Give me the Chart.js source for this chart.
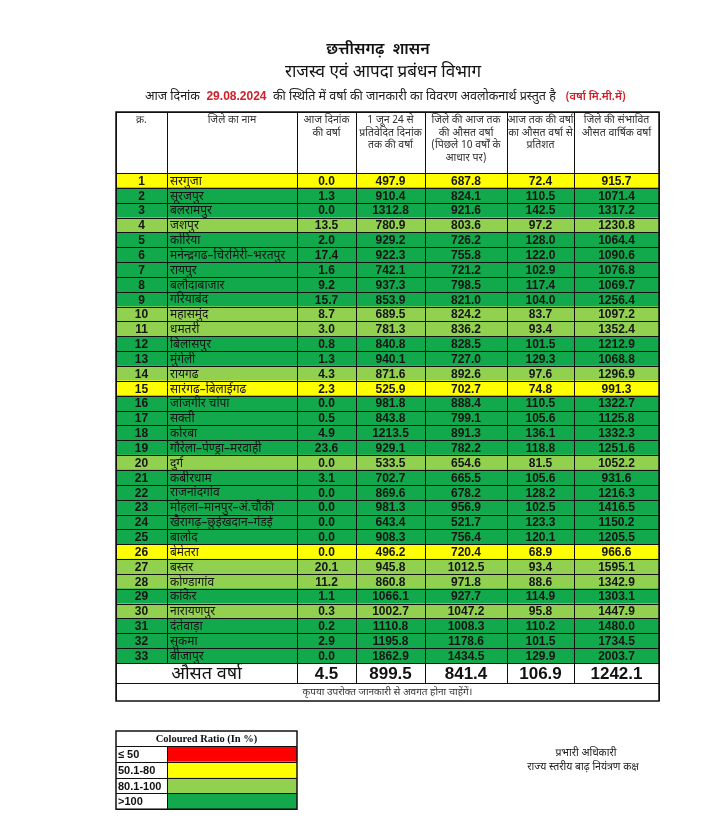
<!DOCTYPE html>
<html>
<head>
<meta charset="utf-8">
<script src="https://cdn.jsdelivr.net/npm/chart.js@4.4.1/dist/chart.umd.min.js"></script>
<style>
  html, body { margin: 0; padding: 0; background: #fff; }
  canvas { display: block; }
</style>
</head>
<body>
<canvas id="rainTable" width="702" height="831"></canvas>
<script>
// ---------- DATA ----------
const serials = Array.from({ length: 33 }, (_, i) => String(i + 1));

const districts = [
  "सरगुजा", "सूरजपुर", "बलरामपुर", "जशपुर", "कोरिया",
  "मनेन्द्रगढ–चिरमिरी–भरतपुर", "रायपुर", "बलौदाबाजार", "गरियाबंद", "महासमुंद",
  "धमतरी", "बिलासपुर", "मुंगेली", "रायगढ", "सारंगढ–बिलाईगढ",
  "जांजगीर चांपा", "सक्ती", "कोरबा", "गौरेला–पेण्ड्रा–मरवाही", "दुर्ग",
  "कबीरधाम", "राजनांदगांव", "मोहला–मानपुर–अं.चौकी", "खैरागढ़–छुईखदान–गंडई", "बालोद",
  "बेमेतरा", "बस्तर", "कोण्डागांव", "कांकेर", "नारायणपुर",
  "दंतेवाड़ा", "सुकमा", "बीजापुर"
];

const todayRain = [
  0.0, 1.3, 0.0, 13.5, 2.0, 17.4, 1.6, 9.2, 15.7, 8.7,
  3.0, 0.8, 1.3, 4.3, 2.3, 0.0, 0.5, 4.9, 23.6, 0.0,
  3.1, 0.0, 0.0, 0.0, 0.0, 0.0, 20.1, 11.2, 1.1, 0.3,
  0.2, 2.9, 0.0
];

const sinceJune = [
  497.9, 910.4, 1312.8, 780.9, 929.2, 922.3, 742.1, 937.3, 853.9, 689.5,
  781.3, 840.8, 940.1, 871.6, 525.9, 981.8, 843.8, 1213.5, 929.1, 533.5,
  702.7, 869.6, 981.3, 643.4, 908.3, 496.2, 945.8, 860.8, 1066.1, 1002.7,
  1110.8, 1195.8, 1862.9
];

const avgToDate = [
  687.8, 824.1, 921.6, 803.6, 726.2, 755.8, 721.2, 798.5, 821.0, 824.2,
  836.2, 828.5, 727.0, 892.6, 702.7, 888.4, 799.1, 891.3, 782.2, 654.6,
  665.5, 678.2, 956.9, 521.7, 756.4, 720.4, 1012.5, 971.8, 927.7, 1047.2,
  1008.3, 1178.6, 1434.5
];

const percentOfAvg = [
  72.4, 110.5, 142.5, 97.2, 128.0, 122.0, 102.9, 117.4, 104.0, 83.7,
  93.4, 101.5, 129.3, 97.6, 74.8, 110.5, 105.6, 136.1, 118.8, 81.5,
  105.6, 128.2, 102.5, 123.3, 120.1, 68.9, 93.4, 88.6, 114.9, 95.8,
  110.2, 101.5, 129.9
];

const annualAvg = [
  915.7, 1071.4, 1317.2, 1230.8, 1064.4, 1090.6, 1076.8, 1069.7, 1256.4, 1097.2,
  1352.4, 1212.9, 1068.8, 1296.9, 991.3, 1322.7, 1125.8, 1332.3, 1251.6, 1052.2,
  931.6, 1216.3, 1416.5, 1150.2, 1205.5, 966.6, 1595.1, 1342.9, 1303.1, 1447.9,
  1480.0, 1734.5, 2003.7
];

// state average row (as reported)
const stateAverage = [4.5, 899.5, 841.4, 106.9, 1242.1];

const columnHeads = [
  ["क्र."],
  ["जिले का नाम"],
  ["आज दिनांक", "की वर्षा"],
  ["1 जून 24 से", "प्रतिवेदित दिनांक", "तक की वर्षा"],
  ["जिले की आज तक", "की औसत वर्षा", "(पिछले 10 वर्षों के", "आधार पर)"],
  ["आज तक की वर्षा", "का औसत वर्षा से", "प्रतिशत"],
  ["जिले की संभावित", "औसत वार्षिक वर्षा"]
];

const ratioBands = ["≤ 50", "50.1-80", "80.1-100", ">100"];
const bandColors = ["#FF0000", "#FFFF00", "#92D050", "#12A84C"];

// ---------- HELPERS ----------
function bandIndex(p) {
  if (p <= 50) return 0;
  if (p <= 80) return 1;
  if (p <= 100) return 2;
  return 3;
}
const rowColors = percentOfAvg.map(p => bandColors[bandIndex(p)]);

// column edges in table units (x scale 0..543)
const colEdges = [0, 51, 181, 240, 309, 391, 458, 543];
const TABLE_W = colEdges[colEdges.length - 1];

const DEV = '"Noto Sans Devanagari", "Lohit Devanagari", "Noto Sans", sans-serif';
const NUM = '"Liberation Sans", Arial, sans-serif';

// ---------- TABLE PLUGIN ----------
const tablePlugin = {
  id: "tableDraw",
  afterDatasetsDraw(chart) {
    const { ctx, chartArea } = chart;
    const xs = chart.scales.x;
    const meta = chart.getDatasetMeta(0);
    const X = colEdges.map(v => xs.getPixelForValue(v));
    const cx = i => (X[i] + X[i + 1]) / 2;

    const top = chartArea.top - 61;      // header top
    const bodyTop = chartArea.top;
    const bodyBottom = chartArea.bottom;
    const avgBottom = bodyBottom + 20;
    const tableBottom = avgBottom + 18;
    const left = X[0], right = X[X.length - 1];

    ctx.save();

    // ---- titles ----
    ctx.fillStyle = "#111";
    ctx.textAlign = "center";
    ctx.textBaseline = "middle";
    ctx.font = "600 16px " + DEV;
    ctx.fillText("छत्तीसगढ़  शासन", 378, 51);
    ctx.font = "17px " + DEV;
    ctx.fillText("राजस्व एवं आपदा प्रबंधन विभाग", 383, 74);

    // subtitle built from segments
    const segs = [
      ["आज दिनांक  ", "12.5px " + DEV, "#222"],
      ["29.08.2024", "bold 12px " + NUM, "#D0202A"],
      ["  की स्थिति में वर्षा की जानकारी का विवरण अवलोकनार्थ प्रस्तुत है", "12.5px " + DEV, "#222"]
    ];
    ctx.textAlign = "left";
    let sx = 145;
    segs.forEach(([t, f, c]) => {
      ctx.font = f;
      ctx.fillStyle = c;
      ctx.fillText(t, sx, t[0] === "2" ? 97 : 98);
      sx += ctx.measureText(t).width;
    });
    ctx.textAlign = "right";
    ctx.font = "600 11px " + DEV;
    ctx.fillStyle = "#D0202A";
    ctx.fillText("(वर्षा मि.मी.में)", 626, 98);

    // ---- header texts ----
    ctx.fillStyle = "#333";
    ctx.textAlign = "center";
    ctx.font = "10.5px " + DEV;
    columnHeads.forEach((lines, i) => {
      lines.forEach((t, k) => ctx.fillText(t, cx(i), top + 9 + k * 12.7));
    });

    // ---- body texts ----
    meta.data.forEach((bar, r) => {
      const y = bar.y + 1;
      ctx.fillStyle = "#151515";
      ctx.font = "bold 12px " + NUM;
      ctx.textAlign = "center";
      ctx.fillText(serials[r], cx(0), y);
      [todayRain, sinceJune, avgToDate, percentOfAvg, annualAvg].forEach((arr, c) => {
        ctx.fillText(arr[r].toFixed(1), cx(c + 2), y);
      });
      ctx.textAlign = "left";
      ctx.font = "12px " + DEV;
      ctx.fillText(districts[r], X[1] + 3, y + 1);
    });

    // ---- average row ----
    ctx.fillStyle = "#111";
    ctx.textAlign = "center";
    ctx.font = "18px " + DEV;
    ctx.fillText("औसत वर्षा", (X[0] + X[2]) / 2, bodyBottom + 13);
    ctx.font = "bold 17px " + NUM;
    stateAverage.forEach((v, c) => ctx.fillText(v.toFixed(1), cx(c + 2), bodyBottom + 11));

    // ---- footer note ----
    ctx.font = "10px " + DEV;
    ctx.fillStyle = "#333";
    ctx.fillText("कृपया उपरोक्त जानकारी से अवगत होना चाहेंगें।", (left + right) / 2, avgBottom + 10);

    // ---- grid lines ----
    ctx.strokeStyle = "#111";
    ctx.lineWidth = 1;
    ctx.beginPath();
    // horizontal row boundaries
    const hy = [top, bodyTop];
    meta.data.forEach(bar => hy.push(bar.y + bar.height / 2));
    hy.push(avgBottom);
    hy.forEach(y => {
      const yy = Math.round(y) + 0.5;
      ctx.moveTo(left, yy);
      ctx.lineTo(right, yy);
    });
    // vertical lines
    X.forEach((x, i) => {
      const xx = Math.round(x) + 0.5;
      if (i === 0 || i === X.length - 1) {
        ctx.moveTo(xx, top);
        ctx.lineTo(xx, tableBottom);
      } else if (i === 1) {
        ctx.moveTo(xx, top);
        ctx.lineTo(xx, bodyBottom);
      } else {
        ctx.moveTo(xx, top);
        ctx.lineTo(xx, avgBottom);
      }
    });
    ctx.stroke();
    ctx.lineWidth = 1.5;
    ctx.strokeRect(left, top, right - left, tableBottom - top);

    // ---- colour legend ----
    const lx = 116, lw = 181, ly = 731, th = 15, rh = 15.8, lc = 51;
    ctx.fillStyle = "#fff";
    ctx.fillRect(lx, ly, lw, th);
    ratioBands.forEach((b, i) => {
      const ry = ly + th + i * rh;
      ctx.fillStyle = "#fff";
      ctx.fillRect(lx, ry, lc, rh);
      ctx.fillStyle = bandColors[i];
      ctx.fillRect(lx + lc, ry, lw - lc, rh);
      ctx.fillStyle = "#111";
      ctx.textAlign = "left";
      ctx.font = "bold 11px " + NUM;
      ctx.fillText(b, lx + 2, ry + rh / 2 + 1);
    });
    ctx.textAlign = "center";
    ctx.font = "bold 10.5px \"Liberation Serif\", \"Times New Roman\", serif";
    ctx.fillText("Coloured Ratio (In %)", lx + lw / 2, ly + th / 2 + 1);
    ctx.lineWidth = 1;
    ctx.beginPath();
    for (let i = 0; i <= ratioBands.length; i++) {
      const yy = Math.round(ly + th + i * rh) + 0.5;
      ctx.moveTo(lx, yy);
      ctx.lineTo(lx + lw, yy);
    }
    ctx.moveTo(lx + lc + 0.5, ly + th);
    ctx.lineTo(lx + lc + 0.5, ly + th + 4 * rh);
    ctx.stroke();
    ctx.lineWidth = 1.5;
    ctx.strokeRect(lx, ly, lw, th + 4 * rh);

    // ---- signature ----
    ctx.fillStyle = "#222";
    ctx.font = "10.5px " + DEV;
    ctx.fillText("प्रभारी अधिकारी", 586, 754);
    ctx.fillText("राज्य स्तरीय बाढ़ नियंत्रण कक्ष", 583, 768);

    ctx.restore();
  }
};

// ---------- INIT CHART ----------
const canvas = document.getElementById("rainTable");

new Chart(canvas, {
  type: "bar",
  data: {
    labels: serials,
    datasets: [{
      data: serials.map(() => [0, TABLE_W]),
      backgroundColor: rowColors,
      borderWidth: 0,
      barPercentage: 1,
      categoryPercentage: 1
    }]
  },
  plugins: [tablePlugin],
  options: {
    indexAxis: "y",
    responsive: false,
    devicePixelRatio: 1,
    animation: false,
    layout: { padding: { left: 116, right: 43, top: 173, bottom: 168 } },
    plugins: {
      legend: { display: false },
      tooltip: { enabled: false }
    },
    scales: {
      x: { type: "linear", min: 0, max: TABLE_W, display: false },
      y: { display: false }
    }
  }
});
</script>
</body>
</html>
